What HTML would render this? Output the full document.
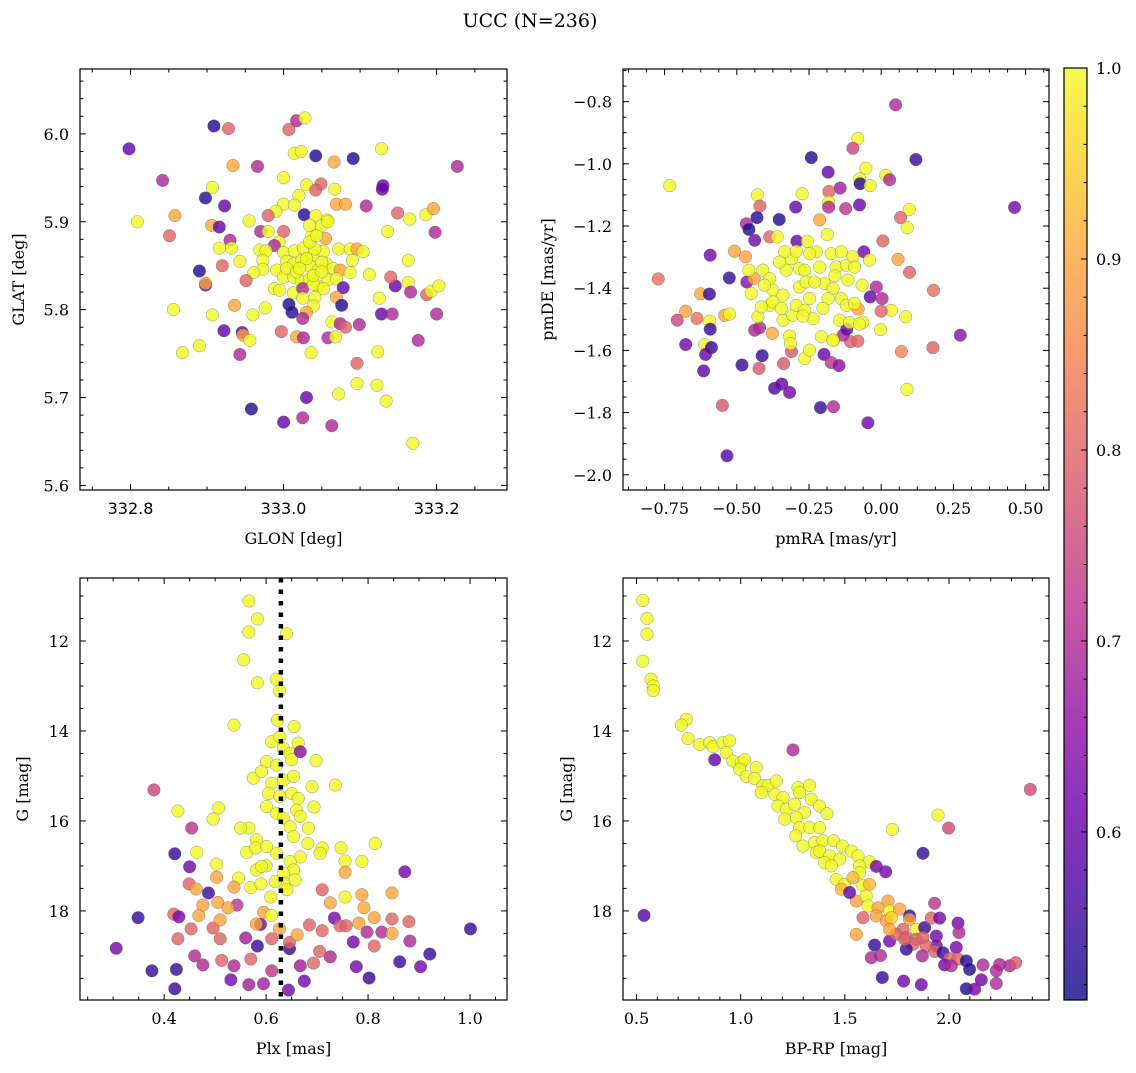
<!DOCTYPE html>
<html><head><meta charset="utf-8">
<style>
html,body{margin:0;padding:0;background:#fff;}
svg text{font-family:"DejaVu Serif","Liberation Serif",serif;fill:#000;}
</style></head>
<body>
<svg id="chart" width="1136" height="1068" xmlns="http://www.w3.org/2000/svg">
<defs>
<linearGradient id="cbgrad" x1="0" y1="1" x2="0" y2="0">
<stop offset="0" stop-color="#0d0887"/><stop offset="0.1" stop-color="#41049d"/><stop offset="0.2" stop-color="#6a00a8"/><stop offset="0.3" stop-color="#8f0da4"/><stop offset="0.4" stop-color="#b12a90"/><stop offset="0.5" stop-color="#cc4778"/><stop offset="0.6" stop-color="#e16462"/><stop offset="0.7" stop-color="#f2844b"/><stop offset="0.8" stop-color="#fca636"/><stop offset="0.9" stop-color="#fcce25"/><stop offset="1" stop-color="#f0f921"/>
</linearGradient>
</defs>
<text x="530" y="27" font-size="19" text-anchor="middle">UCC (N=236)</text>
</svg>
<script>
// ---- Panel 1: GLON / GLAT ----
const p1x=[332.798,332.909,332.928,333.007,333.017,333.028,332.842,333.014,333.023,333.042,333.066,333.091,333.128,333.227,332.934,332.966,333.0,332.907,332.898,332.923,333.03,333.049,333.042,333.067,333.02,333.0,333.014,332.99,332.98,333.069,333.081,333.108,333.13,333.129,333.149,333.165,333.186,333.196,333.198,333.136,332.809,332.858,332.851,332.906,332.916,332.955,332.97,332.98,333.0,333.027,333.042,333.057,333.049,333.037,333.055,332.93,332.932,332.916,332.943,332.994,332.988,332.969,332.977,333.0,333.014,333.026,333.039,333.052,333.072,333.087,333.096,333.104,333.09,332.973,332.973,332.961,332.991,333.004,333.013,333.024,333.034,333.045,333.056,333.065,333.074,333.087,333.0,333.013,333.023,333.034,333.045,333.058,333.069,332.988,332.995,333.013,333.025,333.039,333.052,333.078,333.069,333.041,333.039,333.025,333.03,333.025,333.007,333.011,333.076,333.112,333.163,333.163,333.146,333.166,333.14,333.187,333.193,333.203,333.125,333.128,333.142,333.2,332.89,332.92,332.898,332.898,332.951,332.856,332.907,332.936,332.96,332.976,332.922,332.946,332.947,332.956,332.868,332.89,332.943,332.997,333.017,333.026,333.063,333.074,333.081,333.058,333.068,333.099,333.176,333.036,333.123,333.096,333.096,333.122,333.072,333.134,333.03,332.958,333.0,333.025,333.063,333.169,333.004,333.017,333.039,333.05,333.03,333.041,333.034,333.043,333.05,333.021,333.058,333.034];
const p1y=[5.983,6.009,6.006,6.005,6.015,6.018,5.947,5.978,5.980,5.975,5.968,5.972,5.983,5.963,5.964,5.963,5.950,5.939,5.927,5.918,5.942,5.943,5.936,5.937,5.930,5.920,5.919,5.912,5.907,5.920,5.920,5.918,5.941,5.937,5.910,5.903,5.908,5.915,5.888,5.889,5.900,5.907,5.884,5.896,5.894,5.901,5.889,5.889,5.889,5.908,5.907,5.902,5.895,5.884,5.881,5.879,5.870,5.870,5.855,5.877,5.873,5.868,5.867,5.865,5.867,5.870,5.862,5.866,5.869,5.869,5.869,5.866,5.856,5.856,5.846,5.842,5.845,5.855,5.852,5.856,5.850,5.845,5.852,5.847,5.845,5.842,5.837,5.837,5.832,5.835,5.827,5.834,5.835,5.824,5.822,5.819,5.824,5.829,5.824,5.825,5.814,5.814,5.804,5.813,5.797,5.790,5.806,5.797,5.805,5.840,5.856,5.831,5.827,5.820,5.837,5.817,5.821,5.827,5.813,5.795,5.795,5.795,5.844,5.850,5.828,5.830,5.833,5.800,5.794,5.805,5.794,5.802,5.776,5.774,5.771,5.765,5.751,5.759,5.749,5.775,5.769,5.768,5.786,5.784,5.780,5.768,5.769,5.783,5.765,5.751,5.752,5.739,5.716,5.714,5.704,5.696,5.700,5.687,5.672,5.677,5.668,5.648,5.847,5.843,5.839,5.854,5.858,5.869,5.877,5.884,5.843,5.847,5.900,5.896];
const p1c=[0.6,0.53,0.8,0.8,0.7,1,0.7,1,1,0.53,0.9,0.53,1,0.7,0.9,0.7,1,1,0.53,0.6,1,0.8,0.8,1,1,1,1,1,0.8,0.9,0.9,0.7,0.6,0.6,0.8,1,1,0.9,0.7,1,1,0.9,0.8,0.9,0.6,1,0.7,1,0.8,0.53,1,1,1,1,0.9,0.7,1,1,1,1,0.7,1,1,1,1,1,1,1,1,1,0.9,1,1,1,1,1,1,1,1,1,1,1,1,1,0.9,1,1,1,1,1,1,1,1,1,1,1,0.7,1,1,0.6,0.9,1,1,1,0.9,0.7,0.53,0.53,0.53,1,1,1,0.6,0.7,0.8,0.8,1,1,1,0.6,0.7,0.7,0.53,0.8,0.6,0.9,0.8,1,1,0.9,1,1,0.6,0.6,0.9,1,1,1,0.7,0.8,0.9,0.7,1,0.7,0.8,0.7,1,0.7,0.7,1,1,0.8,1,1,1,1,0.6,0.53,0.6,0.7,0.7,1,1,1,1,1,1,1,1,1,1,1,1,1];

// ---- Panel 2: pmRA / pmDE ----
const p2x=[0.05,-0.081,-0.098,-0.242,0.12,-0.184,-0.053,-0.075,-0.073,-0.038,0.016,0.029,-0.142,-0.732,0.462,-0.274,-0.429,-0.42,-0.296,-0.181,-0.182,-0.182,-0.123,-0.075,0.097,0.09,0.067,-0.43,-0.353,-0.467,-0.458,-0.213,-0.187,-0.438,-0.386,-0.36,-0.292,-0.256,0.006,-0.592,-0.508,-0.47,-0.06,-0.04,0.058,0.098,-0.772,-0.526,-0.625,-0.595,-0.465,-0.44,-0.458,-0.677,-0.706,-0.638,-0.594,-0.542,-0.525,-0.592,-0.677,-0.611,-0.588,-0.608,-0.615,-0.482,-0.412,-0.423,-0.55,-0.534,-0.369,-0.344,-0.317,-0.21,-0.165,-0.046,-0.198,-0.173,-0.146,-0.338,-0.311,-0.265,-0.248,-0.207,-0.165,-0.106,-0.081,-0.132,-0.317,-0.314,-0.377,-0.438,-0.421,-0.002,0.07,0.179,0.274,0.181,0.089,0.085,0.035,0.0,-0.066,-0.017,-0.038,0.003,-0.064,-0.08,-0.119,-0.41,-0.386,-0.375,-0.386,-0.427,-0.34,-0.306,-0.294,-0.34,-0.329,-0.311,-0.334,-0.283,-0.265,-0.283,-0.26,-0.248,-0.265,-0.236,-0.271,-0.225,-0.213,-0.196,-0.167,-0.184,-0.202,-0.173,-0.138,-0.156,-0.121,-0.098,-0.092,-0.115,-0.138,-0.121,-0.092,-0.144,-0.109,-0.075,-0.167,-0.248,-0.294,-0.352,-0.404,-0.45,-0.375,-0.346,-0.415,-0.16,-0.231];
const p2y=[-0.81,-0.919,-0.95,-0.98,-0.986,-1.027,-1.014,-1.048,-1.064,-1.07,-1.037,-1.051,-1.078,-1.07,-1.14,-1.096,-1.1,-1.136,-1.139,-1.089,-1.123,-1.139,-1.144,-1.132,-1.147,-1.205,-1.173,-1.173,-1.179,-1.193,-1.211,-1.18,-1.227,-1.246,-1.235,-1.235,-1.249,-1.249,-1.248,-1.294,-1.281,-1.299,-1.283,-1.31,-1.307,-1.349,-1.37,-1.367,-1.418,-1.419,-1.38,-1.369,-1.342,-1.474,-1.503,-1.497,-1.506,-1.487,-1.483,-1.532,-1.581,-1.581,-1.591,-1.613,-1.666,-1.647,-1.617,-1.658,-1.777,-1.939,-1.722,-1.708,-1.735,-1.784,-1.781,-1.833,-1.613,-1.639,-1.649,-1.642,-1.604,-1.626,-1.599,-1.556,-1.567,-1.572,-1.57,-1.551,-1.554,-1.578,-1.545,-1.535,-1.527,-1.533,-1.604,-1.591,-1.551,-1.407,-1.725,-1.492,-1.471,-1.474,-1.39,-1.396,-1.428,-1.433,-1.51,-1.467,-1.532,-1.342,-1.369,-1.406,-1.455,-1.492,-1.503,-1.487,-1.455,-1.422,-1.342,-1.305,-1.283,-1.337,-1.342,-1.396,-1.38,-1.433,-1.471,-1.498,-1.49,-1.283,-1.332,-1.385,-1.401,-1.433,-1.465,-1.289,-1.283,-1.332,-1.326,-1.299,-1.332,-1.374,-1.433,-1.455,-1.449,-1.503,-1.51,-1.515,-1.567,-1.289,-1.281,-1.316,-1.39,-1.417,-1.444,-1.465,-1.46,-1.36,-1.38];
const p2c=[0.7,1,0.75,0.53,0.55,0.6,1,1,0.53,1,1,0.7,0.68,1,0.62,1,1,0.8,0.6,0.8,1,0.7,0.72,0.6,1,1,0.8,0.53,0.53,0.7,0.53,0.9,1,0.62,0.8,1,0.6,1,0.8,0.62,0.9,0.9,0.62,1,0.9,0.8,0.82,0.55,0.9,0.55,0.65,0.9,1,0.9,0.75,0.82,1,0.9,1,0.55,0.62,1,0.55,0.6,0.6,0.55,0.55,0.78,0.78,0.58,0.58,0.6,0.62,0.55,0.7,0.62,0.6,0.72,0.65,0.78,0.78,1,1,1,1,0.8,0.8,0.7,1,1,0.9,0.7,0.7,1,0.85,0.8,0.65,0.82,1,1,1,0.8,1,0.7,0.6,0.7,1,0.9,0.6,1,1,1,1,1,1,1,1,1,1,1,1,1,1,1,1,1,1,1,1,1,1,1,1,1,1,1,1,1,1,1,1,1,1,1,1,1,1,1,1,1,1,1,1,1,1,1,1,1,1];

// ---- Panel 3: Plx / G ----
const p3x=[0.566,0.583,0.566,0.64,0.556,0.583,0.62,0.626,0.537,0.622,0.655,0.698,0.736,0.69,0.694,0.683,0.814,0.747,0.71,0.755,0.755,0.788,0.427,0.38,0.454,0.421,0.45,0.464,0.496,0.507,0.503,0.503,0.487,0.449,0.463,0.566,0.55,0.581,0.562,0.58,0.581,0.6,0.546,0.57,0.59,0.609,0.537,0.543,0.525,0.505,0.476,0.419,0.429,0.349,0.306,0.376,0.424,0.421,0.427,0.46,0.476,0.453,0.468,0.496,0.51,0.51,0.513,0.537,0.531,0.566,0.595,0.56,0.583,0.57,0.611,0.611,0.589,0.581,0.595,0.61,0.626,0.646,0.646,0.661,0.644,0.667,0.675,0.693,0.705,0.71,0.685,0.71,0.726,0.726,0.734,0.745,0.757,0.771,0.755,0.788,0.792,0.782,0.812,0.798,0.812,0.827,0.777,0.802,0.847,0.847,0.847,0.872,0.88,0.882,0.862,0.903,0.921,1.001,0.611,0.627,0.634,0.647,0.663,0.601,0.621,0.65,0.575,0.591,0.611,0.634,0.654,0.605,0.627,0.65,0.663,0.601,0.621,0.634,0.66,0.667,0.647,0.654,0.682,0.706,0.667,0.647,0.654,0.634,0.636,0.641,0.657,0.621,0.601,0.591,0.618,0.667];
const p3y=[11.11,11.51,11.8,11.84,12.42,12.93,12.85,13.11,13.87,13.76,13.9,14.66,15.2,15.24,15.69,16.16,16.5,16.6,16.6,16.89,17.14,16.9,15.78,15.31,16.16,16.73,17.02,16.7,15.96,15.71,16.96,17.25,17.6,17.4,17.51,16.16,16.16,16.42,16.7,16.6,17.09,17.0,17.27,17.48,17.4,17.69,17.47,17.87,17.93,17.81,17.87,18.07,18.13,18.15,18.83,19.33,19.3,19.73,18.62,19.0,19.2,18.4,18.1,18.38,18.62,18.2,19.1,19.22,19.53,19.64,19.62,18.6,18.78,19.07,18.62,19.33,18.3,18.29,18.03,18.1,18.4,18.84,18.7,18.53,19.76,19.22,19.56,19.16,18.9,18.44,18.31,17.53,17.82,19.02,18.16,18.33,18.33,18.69,17.69,17.64,17.93,18.27,18.15,18.47,18.78,18.47,19.24,19.49,17.6,18.18,18.5,17.13,18.24,18.67,19.13,19.24,18.96,18.4,14.24,14.13,14.39,14.5,14.27,14.68,14.76,14.64,15.05,14.9,15.16,15.09,15.01,15.39,15.46,15.39,15.5,15.68,15.83,15.94,15.76,15.9,16.13,16.35,16.5,16.72,16.8,16.9,17.09,17.16,17.39,17.53,17.31,16.72,16.57,17.01,17.35,14.46];
const p3c=[1,1,1,1,1,1,1,1,1,1,1,1,1,1,1,1,1,1,1,1,0.9,1,1,0.75,0.72,0.55,0.62,1,1,1,1,0.9,0.55,0.8,0.9,1,1,1,1,1,1,1,1,1,1,1,0.9,0.72,0.9,0.9,0.9,0.8,0.62,0.55,0.62,0.55,0.55,0.55,0.8,0.7,0.7,0.8,0.9,0.8,0.8,0.9,0.8,0.7,0.62,0.68,0.68,0.68,0.55,0.8,0.8,0.72,0.62,0.9,0.9,1,0.9,0.55,0.8,0.9,0.62,0.68,0.62,0.8,0.8,0.8,0.8,0.8,0.9,0.7,0.62,0.8,0.8,0.62,1,0.9,0.9,0.9,0.9,0.7,0.8,0.7,0.62,0.55,0.9,0.8,0.9,0.62,0.8,0.7,0.55,0.62,0.55,0.55,1,1,1,1,1,1,1,1,1,1,1,1,1,1,1,1,1,1,1,1,1,1,1,1,1,1,1,1,1,1,1,1,1,1,1,1,1,0.65];

// ---- Panel 4: BP-RP / G ----
const p4x=[0.53,0.55,0.55,0.53,0.57,0.58,0.58,0.739,0.715,0.747,0.803,0.851,0.867,0.915,0.947,0.875,1.251,0.931,0.963,1.003,1.019,0.995,1.027,1.075,1.067,1.107,1.131,1.171,1.099,1.163,1.203,1.275,1.283,1.331,1.339,1.179,1.219,1.259,1.307,1.379,1.414,1.211,1.267,1.283,1.331,1.379,1.264,1.299,1.355,1.395,1.446,1.488,1.363,1.379,1.427,1.475,1.531,1.563,1.619,1.403,1.435,1.571,1.571,1.459,1.499,1.539,1.587,1.619,1.483,1.555,1.603,1.611,1.659,1.707,1.715,1.763,1.587,1.651,1.699,1.723,1.811,1.811,1.843,1.883,1.555,1.779,1.795,1.843,1.875,1.931,1.915,1.955,1.939,1.939,1.891,1.827,1.795,1.715,1.643,1.627,1.671,1.872,1.931,1.971,2.043,2.048,2.035,2.003,2.043,1.979,2.011,2.083,2.099,2.163,2.227,2.243,2.291,2.32,2.155,2.227,2.083,2.123,1.867,1.782,1.68,1.728,1.947,1.998,2.39,1.875,0.536,1.651,1.696,1.523,1.747,1.787,1.715];
const p4y=[11.1,11.5,11.85,12.45,12.85,13.0,13.1,13.74,13.87,14.17,14.3,14.26,14.35,14.26,14.22,14.64,14.42,14.48,14.67,14.7,14.64,14.85,15.01,14.81,15.06,15.22,15.21,15.11,15.37,15.41,15.48,15.26,15.37,15.21,15.52,15.67,15.74,15.63,15.81,15.67,15.84,15.96,15.93,16.15,16.15,16.15,16.33,16.56,16.48,16.44,16.44,16.56,16.7,16.67,16.78,16.85,16.67,16.78,16.91,16.93,17.0,17.0,17.15,17.3,17.41,17.26,17.44,17.41,17.52,17.78,17.67,17.89,17.93,17.78,18.0,17.96,18.15,18.11,18.22,18.15,18.11,18.19,18.41,18.37,18.52,18.41,18.59,18.63,18.59,17.83,18.16,18.16,18.56,18.78,18.78,18.74,18.85,18.67,18.76,19.04,18.99,19.0,18.9,18.93,18.27,18.48,18.81,19.06,19.07,19.2,19.22,19.11,19.3,19.2,19.33,19.19,19.22,19.15,19.53,19.61,19.73,19.74,19.64,19.56,19.48,16.19,15.87,16.16,15.3,16.72,18.1,17.01,17.13,17.59,18.52,18.63,18.41];
const p4c=[1,1,1,1,1,1,1,1,1,1,1,1,1,1,1,0.6,0.7,1,1,1,1,1,1,1,1,1,1,1,1,1,1,1,1,1,1,1,1,1,1,1,1,1,1,1,1,1,1,1,1,1,1,1,1,1,1,1,1,1,1,1,1,1,1,1,1,0.92,1,0.92,0.92,0.9,1,1,0.9,0.9,1,0.9,0.8,0.9,0.9,0.95,0.55,0.9,1,0.55,0.9,0.8,0.8,0.8,0.8,0.72,0.8,0.62,0.62,0.62,0.8,0.8,0.55,0.62,0.55,0.7,0.7,0.7,0.8,0.55,0.62,0.7,0.62,0.8,0.8,0.62,0.7,0.53,0.53,0.7,0.7,0.7,0.7,0.78,0.62,0.7,0.53,0.62,0.62,0.62,0.55,1,1,0.76,0.76,0.55,0.58,0.62,0.62,0.6,0.8,0.8,0.9];

const P1XT=[332.8,333.0,333.2], P1YT=[5.6,5.7,5.8,5.9,6.0];
const P2XT=[-0.75,-0.5,-0.25,0,0.25,0.5], P2YT=[-2.0,-1.8,-1.6,-1.4,-1.2,-1.0,-0.8];
const P3XT=[0.4,0.6,0.8,1.0], P3YT=[12,14,16,18];
const P4XT=[0.5,1.0,1.5,2.0], P4YT=[12,14,16,18];
const CBT=[0.6,0.7,0.8,0.9,1.0];
const PLX_REF=[0.629];

const NS='http://www.w3.org/2000/svg';
const svg=document.getElementById('chart');
const VMIN=0.512, VMAX=1.0;
const PL=[[13,8,135],[65,4,157],[106,0,168],[143,13,164],[177,42,144],[204,71,120],[225,100,98],[242,132,75],[252,166,54],[252,206,37],[240,249,33]];
function plasma(v){let t=(v-VMIN)/(VMAX-VMIN);t=Math.max(0,Math.min(1,t))*10;const i=Math.min(9,Math.floor(t)),f=t-i;const a=PL[i],b=PL[i+1];return 'rgb('+a.map((c,k)=>Math.round(c+(b[k]-c)*f)).join(',')+')';}
function el(tag,attrs,parent){const e=document.createElementNS(NS,tag);for(const k in attrs)e.setAttribute(k,attrs[k]);(parent||svg).appendChild(e);return e;}
function fmt(v,d){const s=v.toFixed(d);return s.replace('-','\u2212');}

function panel(name,box,xd,yd,xs,ys,cs,xt,yt,xdec,ydec,xminor,yminor,xlabel,ylabel,ylx,xfont){
  const g=el('g',{});
  
  
  const sx=v=>box.x0+(v-xd[0])/(xd[1]-xd[0])*(box.x1-box.x0);
  const sy=v=>box.y1-(v-yd[0])/(yd[1]-yd[0])*(box.y1-box.y0);
  const cp='cp-'+name;
  const clip=el('clipPath',{id:cp},g);
  el('rect',{x:box.x0,y:box.y0,width:box.x1-box.x0,height:box.y1-box.y0},clip);
  const pts=el('g',{'clip-path':'url(#'+cp+')'},g);
  
  
  for(let i=0;i<xs.length;i++){
    const c=el('circle',{cx:sx(xs[i]).toFixed(1),cy:sy(ys[i]).toFixed(1),r:6.3,fill:plasma(cs[i]),'fill-opacity':0.8,stroke:'#555','stroke-opacity':0.6,'stroke-width':0.5},pts);
    
    
  }
  g.pts=pts;g.sx=sx;g.sy=sy;
  const tk=el('g',{stroke:'#000','stroke-width':1},g);
  const xmin=Math.min(xd[0],xd[1]),xmax=Math.max(xd[0],xd[1]);
  const ymin=Math.min(yd[0],yd[1]),ymax=Math.max(yd[0],yd[1]);
  for(let v=Math.ceil(xmin/xminor-1e-6)*xminor;v<=xmax;v+=xminor){const x=sx(v);const major=xt.some(m=>Math.abs(m-v)<xminor/3);const L=major?6:3.5;
    el('line',{x1:x,y1:box.y1,x2:x,y2:box.y1-L},tk);el('line',{x1:x,y1:box.y0,x2:x,y2:box.y0+L},tk);}
  for(let v=Math.ceil(ymin/yminor-1e-6)*yminor;v<=ymax;v+=yminor){const y=sy(v);const major=yt.some(m=>Math.abs(m-v)<yminor/3);const L=major?6:3.5;
    el('line',{x1:box.x0,y1:y,x2:box.x0+L,y2:y},tk);el('line',{x1:box.x1,y1:y,x2:box.x1-L,y2:y},tk);}
  xt.forEach(v=>{const t=el('text',{x:sx(v),y:box.y1+24,'font-size':16,'text-anchor':'middle'},g);t.textContent=fmt(v,xdec);
    if(xfont)t.setAttribute('style','font-family:'+xfont);
    });
  yt.forEach(v=>{const t=el('text',{x:box.x0-11,y:sy(v)+6,'font-size':16,'text-anchor':'end'},g);t.textContent=fmt(v,ydec);
    });
  const f=el('rect',{x:box.x0,y:box.y0,width:box.x1-box.x0,height:box.y1-box.y0,fill:'none',stroke:'#000','stroke-width':1.2},g);
  
  const xl=el('text',{x:(box.x0+box.x1)/2,y:box.y1+54,'font-size':16,'text-anchor':'middle'},g);xl.textContent=xlabel;
  
  const cy=(box.y0+box.y1)/2;
  const yl=el('text',{x:ylx,y:cy,'font-size':16,'text-anchor':'middle',transform:'rotate(-90 '+ylx+' '+cy+')'},g);yl.textContent=ylabel;
  
  return g;
}

panel('panel-glon-glat',{x0:80,x1:507,y0:69,y1:490},[332.734,333.292],[5.5948,6.0738],p1x,p1y,p1c,P1XT,P1YT,1,1,0.05,0.02,'GLON [deg]','GLAT [deg]',24,'"DejaVu Sans","Liberation Sans",sans-serif');
panel('panel-pm',{x0:623,x1:1049,y0:69,y1:490},[-0.894,0.581],[-2.049,-0.695],p2x,p2y,p2c,P2XT,P2YT,2,1,0.0625,0.05,'pmRA [mas/yr]','pmDE [mas/yr]',553);
const g3=panel('panel-plx-g',{x0:80,x1:507,y0:578,y1:1000},[0.235,1.0725],[19.98,10.6],p3x,p3y,p3c,P3XT,P3YT,1,0,0.05,0.5,'Plx [mas]','G [mag]',28);
panel('panel-cmd',{x0:623,x1:1049,y0:578,y1:1000},[0.435,2.48],[19.98,10.6],p4x,p4y,p4c,P4XT,P4YT,1,0,0.1,0.5,'BP-RP [mag]','G [mag]',572);

PLX_REF.forEach(v=>{const x=g3.sx(v);const l=el('line',{x1:x,y1:578,x2:x,y2:1000,stroke:'#000','stroke-width':4.5,'stroke-dasharray':'4.5 7'},g3.pts);
  });

const cb=el('g',{});


const CB={x0:1064,x1:1087,y0:68,y1:1000};
el('rect',{x:CB.x0,y:CB.y0,width:CB.x1-CB.x0,height:CB.y1-CB.y0,fill:'url(#cbgrad)','fill-opacity':0.8},cb);
el('rect',{x:CB.x0,y:CB.y0,width:CB.x1-CB.x0,height:CB.y1-CB.y0,fill:'none',stroke:'#000','stroke-width':1.2},cb);
const cby=v=>CB.y1-(v-VMIN)/(VMAX-VMIN)*(CB.y1-CB.y0);
for(let v=0.52;v<=1.0001;v+=0.02){const y=cby(v);const major=CBT.some(m=>Math.abs(m-v)<0.005);
  el('line',{x1:CB.x1,y1:y,x2:CB.x1-(major?6:3.5),y2:y,stroke:'#000','stroke-width':1},cb);}
CBT.forEach(v=>{const t=el('text',{x:CB.x1+9,y:cby(v)+6,'font-size':16},cb);t.textContent=v.toFixed(1);
  });
</script>
</body></html>
